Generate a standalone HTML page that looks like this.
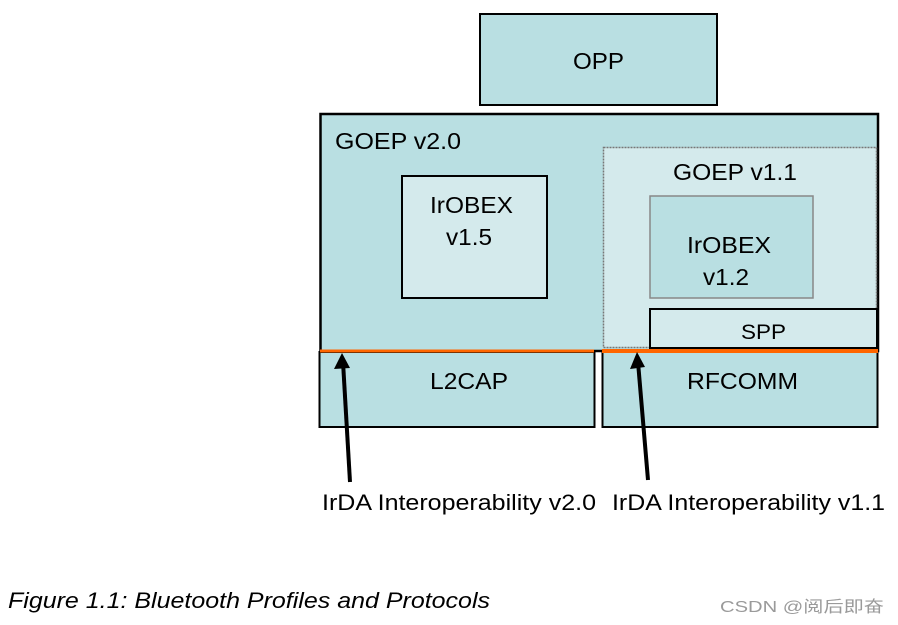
<!DOCTYPE html>
<html><head><meta charset="utf-8"><style>
html,body{margin:0;padding:0;background:#fff;width:898px;height:625px;overflow:hidden}
svg{display:block}
text{font-family:"Liberation Sans",Arial,sans-serif;fill:#000}
</style></head><body>
<svg width="898" height="625" viewBox="0 0 898 625" xmlns="http://www.w3.org/2000/svg">
<!-- OPP -->
<rect x="480" y="14" width="237" height="91" fill="#b9dfe2" stroke="#000" stroke-width="2"/>
<text x="573" y="69" font-size="23" textLength="51" lengthAdjust="spacingAndGlyphs">OPP</text>
<!-- GOEP v2.0 -->
<rect x="320.5" y="114" width="557.5" height="237" fill="#b9dfe2" stroke="#000" stroke-width="2.5"/>
<text x="335" y="149" font-size="23" textLength="126" lengthAdjust="spacingAndGlyphs">GOEP v2.0</text>
<!-- IrOBEX v1.5 -->
<rect x="402" y="176" width="145" height="122" fill="#d4eaec" stroke="#000" stroke-width="2"/>
<text x="430" y="213" font-size="23" textLength="83" lengthAdjust="spacingAndGlyphs">IrOBEX</text>
<text x="446" y="245" font-size="23" textLength="46" lengthAdjust="spacingAndGlyphs">v1.5</text>
<!-- GOEP v1.1 -->
<rect x="603.5" y="147.5" width="273" height="200" fill="#d4eaec" stroke="#777" stroke-width="1.5" stroke-dasharray="2,1"/>
<text x="673" y="180" font-size="23" textLength="124" lengthAdjust="spacingAndGlyphs">GOEP v1.1</text>
<!-- IrOBEX v1.2 -->
<rect x="650" y="196" width="163" height="102" fill="#b9dfe2" stroke="#888" stroke-width="1.5"/>
<text x="687" y="253" font-size="23" textLength="84" lengthAdjust="spacingAndGlyphs">IrOBEX</text>
<text x="703" y="285" font-size="23" textLength="46" lengthAdjust="spacingAndGlyphs">v1.2</text>
<!-- SPP -->
<rect x="650" y="309" width="227" height="39" fill="#d4eaec" stroke="#000" stroke-width="2"/>
<text x="741" y="339" font-size="21" textLength="45" lengthAdjust="spacingAndGlyphs">SPP</text>
<!-- L2CAP -->
<rect x="319.5" y="352" width="275" height="75" fill="#b9dfe2" stroke="#000" stroke-width="2"/>
<text x="430" y="389" font-size="23" textLength="78" lengthAdjust="spacingAndGlyphs">L2CAP</text>
<!-- RFCOMM -->
<rect x="602.5" y="352" width="275" height="75" fill="#b9dfe2" stroke="#000" stroke-width="2"/>
<text x="687" y="389" font-size="23" textLength="111" lengthAdjust="spacingAndGlyphs">RFCOMM</text>
<!-- orange lines -->
<line x1="320" y1="351" x2="594" y2="351" stroke="#ff6600" stroke-width="3"/>
<line x1="602" y1="351" x2="878" y2="351" stroke="#ff6600" stroke-width="4"/>
<!-- arrows -->
<line x1="350" y1="482" x2="343" y2="362" stroke="#000" stroke-width="4"/>
<polygon points="342,353 334,369 350,368" fill="#000"/>
<line x1="648" y1="480" x2="638" y2="362" stroke="#000" stroke-width="4"/>
<polygon points="637,352 630,369 645,367" fill="#000"/>
<!-- labels -->
<text x="322" y="510" font-size="22" textLength="274" lengthAdjust="spacingAndGlyphs">IrDA Interoperability v2.0</text>
<text x="612" y="510" font-size="22" textLength="273" lengthAdjust="spacingAndGlyphs">IrDA Interoperability v1.1</text>
<text x="8" y="608" font-size="22" font-style="italic" textLength="482" lengthAdjust="spacingAndGlyphs">Figure 1.1: Bluetooth Profiles and Protocols</text>
<text x="720" y="612" font-size="16" textLength="164" lengthAdjust="spacingAndGlyphs" style="fill:#9a9a9a;font-family:'Liberation Sans','Noto Sans CJK SC',sans-serif">CSDN @阅后即奋</text>
</svg>
</body></html>
